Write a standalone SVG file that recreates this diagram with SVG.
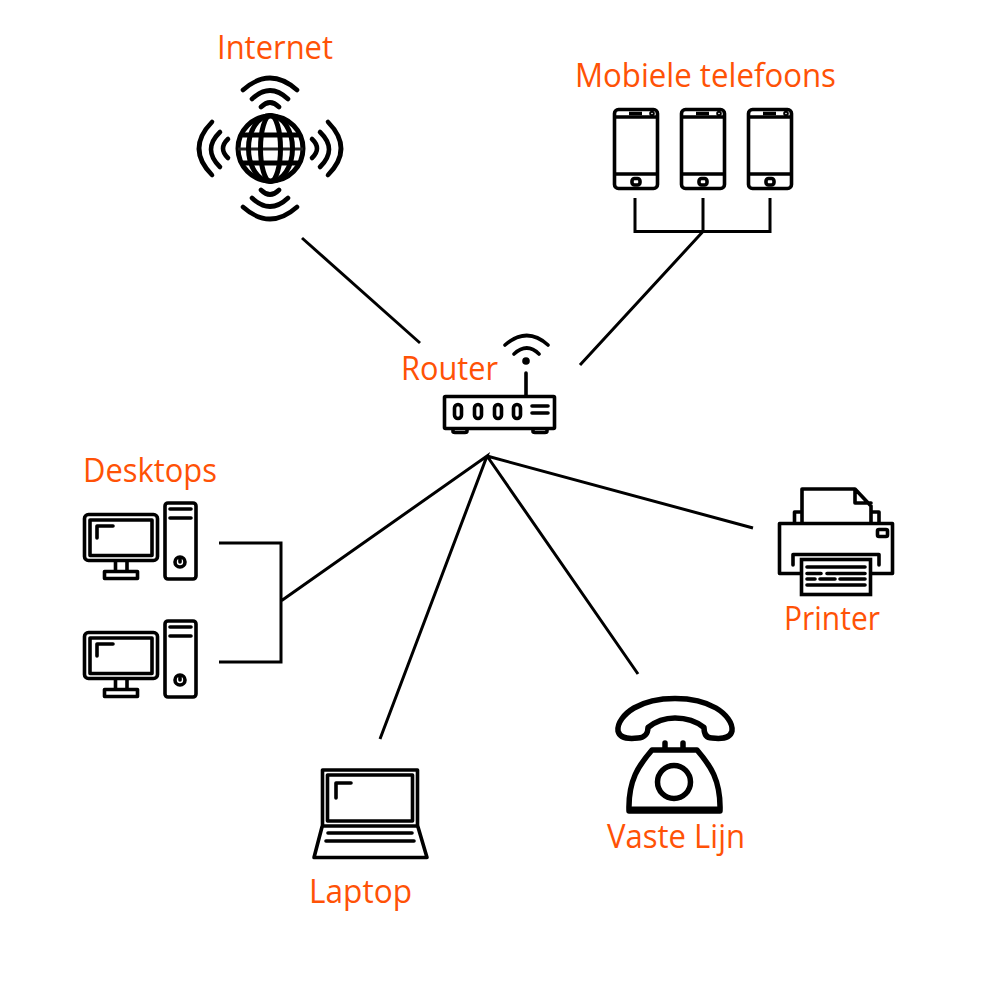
<svg xmlns="http://www.w3.org/2000/svg" width="1000" height="1000" viewBox="0 0 1000 1000">
<style>
text{font-family:"Open Sans","Noto Sans","Liberation Sans",sans-serif;font-size:32px;fill:#ff5206}
.i{fill:none;stroke:#000;stroke-width:3.600;stroke-linecap:round;stroke-linejoin:round}
.w{fill:none;stroke:#000;stroke-width:4.600;stroke-linecap:round}
.t{stroke-width:5.500;stroke-linejoin:round}
.c{fill:none;stroke:#000;stroke-width:3;stroke-linejoin:miter}
</style>
<defs>
<g id="mobile" class="i">
<rect x="614.5" y="109.5" width="43" height="79" rx="4"/>
<path d="M615 117H657M615 174H657"/>
<path d="M629 113.5H642" stroke-linecap="butt"/>
<circle cx="652" cy="113.5" r="1"/>
<rect x="632" y="178.5" width="8" height="6.500" rx="2.500"/>
</g>
<g id="pc" class="i">
<rect x="84.500" y="514.500" width="73" height="46" rx="4"/>
<rect x="90" y="520" width="62" height="35.500"/>
<path d="M97 538V526H113"/>
<path d="M115.500 561V571M127 561V571"/>
<rect x="104.500" y="571.500" width="33" height="7"/>
<rect x="165" y="503" width="31" height="76" rx="3"/>
<path d="M170 509H191M170 518H191"/>
<circle cx="180" cy="562" r="5"/>
<path d="M180 558V562"/>
</g>
</defs>
<g id="connectors" class="c">
<path d="M302 238L420 343"/>
<path d="M635 198V231.500H770V198M703 198V231.500L580 365"/>
<path d="M219 543H281V662H219M281 601L487 456L380 739M487 456L638 674M487 456L753 528"/>
</g>
<g id="internet">
<circle class="w" cx="270.500" cy="148.500" r="32.500" style="stroke-width:5"/>
<path class="w" style="stroke-width:5" d="M243 135H298M243 163H298" stroke-linecap="butt"/>
<path fill="none" stroke="#222" stroke-width="3" d="M238 149H303"/>
<ellipse class="w" style="stroke-width:5" cx="270.500" cy="148.500" rx="22" ry="33"/>
<ellipse class="w" style="stroke-width:5" cx="270.500" cy="148.500" rx="10" ry="33"/>
<path class="w" d="M243 90Q270 66 297 90M252 99Q270 82 288 99M261 107Q270 98 279 107"/>
<path class="w" d="M243 207Q270 231 297 207M252 198Q270 215 288 198M261 190Q270 199 279 190"/>
<path class="w" d="M212 122Q186 148.500 212 175M220 132Q202 149.500 220 167M228 139Q218 148.500 228 158"/>
<path class="w" d="M328 122Q354 148.500 328 175M320 132Q338 149.500 320 167M312 139Q322 148.500 312 158"/>
<text x="217" y="59" textLength="116" lengthAdjust="spacingAndGlyphs">Internet</text>
</g>
<g id="mobiles">
<use href="#mobile"/>
<use href="#mobile" x="67"/>
<use href="#mobile" x="134"/>
<text x="575" y="87" textLength="261" lengthAdjust="spacingAndGlyphs">Mobiele telefoons</text>
</g>
<g id="router">
<rect class="i" x="444.500" y="396.500" width="110" height="32" rx="1"/>
<path class="i" d="M453 429V431.500Q453 432.500 455 432.500H465Q467 432.500 467 431V429M533 429V431.500Q533 432.500 535 432.500H545Q547 432.500 547 431V429"/>
<rect class="i" x="454.500" y="404.500" width="7" height="14" rx="3.500"/>
<rect class="i" x="474.500" y="404.500" width="7" height="14" rx="3.500"/>
<rect class="i" x="494.500" y="404.500" width="7" height="14" rx="3.500"/>
<rect class="i" x="513.500" y="404.500" width="7" height="14" rx="3.500"/>
<path class="i" d="M532 406H548M532 413H548M526 373V396"/>
<circle cx="526" cy="361" r="3.800"/>
<path class="i" d="M514 354Q527 342 539 354M505 345Q527 326 548 345"/>
<text x="401" y="380" textLength="97" lengthAdjust="spacingAndGlyphs">Router</text>
</g>
<g id="desktops">
<use href="#pc"/>
<use href="#pc" y="118"/>
<text x="83" y="482" textLength="134" lengthAdjust="spacingAndGlyphs">Desktops</text>
</g>
<g id="printer">
<rect class="i" x="779.500" y="523.500" width="113" height="50"/>
<path class="i" d="M802 522V489H855L871 506V522M855 489V503H871M802 512H794.500V522M871 512H879V522"/>
<rect class="i" x="877.500" y="529.500" width="10" height="7" rx="1.500"/>
<path class="i" d="M793 565V554.500H879V565"/>
<rect x="801.500" y="559.500" width="69" height="35" fill="#fff" stroke="#000" stroke-width="3.600"/>
<path class="i" d="M807 567H865M807 573.500H821M827 573.500H865M807 579H815M820 579H835M840 579H865M807 585H865"/>
<text x="784" y="630" textLength="96" lengthAdjust="spacingAndGlyphs">Printer</text>
</g>
<g id="phone">
<path class="w t" d="M648 727.500C656 721 666 718 675 718C685 718 696 721 704 727.500C704 734 706 738 712 738C720 739 730 739 732 731C733 723 726 714 716 708C704 701 690 698.500 675 698.500C660 698.500 646 701 634 708C624 714 617 723 618 731C620 739 630 739 638 738C644 738 648 734 648 727.500Z"/>
<path class="w t" d="M665 743V749M683 743V749"/>
<path class="w t" d="M652 750H697C710 765 721 780 720 811H629C628 780 639 765 652 750Z"/>
<path class="w" style="stroke-width:3" d="M630 808H720"/>
<circle class="w t" cx="674" cy="782" r="16.500"/>
<text x="607" y="848" textLength="138" lengthAdjust="spacingAndGlyphs">Vaste Lijn</text>
</g>
<g id="laptop">
<rect class="i" x="322.500" y="770" width="95" height="56"/>
<rect class="i" x="327.500" y="775" width="85" height="46"/>
<path class="i" d="M336 798V783H351"/>
<path class="i" d="M322 827L314 857.500H427L418 827"/>
<path class="i" d="M328 833H412M326 841H414"/>
<text x="309" y="903" textLength="103" lengthAdjust="spacingAndGlyphs">Laptop</text>
</g>
</svg>
